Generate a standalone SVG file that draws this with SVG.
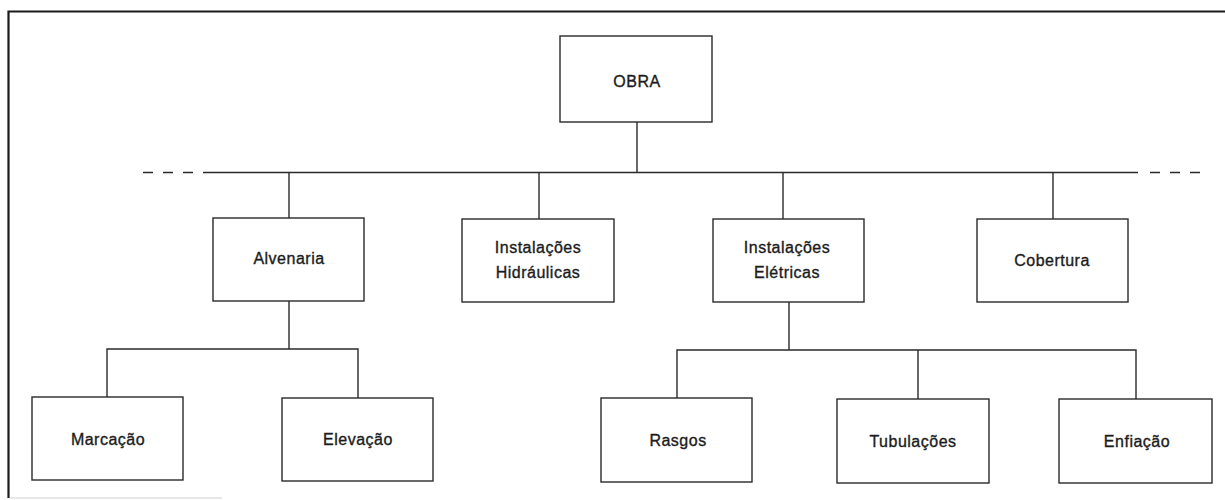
<svg xmlns="http://www.w3.org/2000/svg" width="1225" height="500" viewBox="0 0 1225 500">
  <style>
    .box { fill: #ffffff; stroke: #2a2a2a; stroke-width: 1.4; }
    .lbl { font-family: "Liberation Sans", Arial, sans-serif; font-size: 16px; fill: #1c1c1c; stroke: #1c1c1c; stroke-width: 0.35; text-anchor: middle; letter-spacing: 0.5px; }
    .wire { fill: none; stroke: #2a2a2a; stroke-width: 1.4; }
    .dash { fill: none; stroke: #2a2a2a; stroke-width: 1.4; stroke-dasharray: 10 10; }
  </style>
  <rect width="1225" height="500" fill="#ffffff"/>

  <!-- outer frame -->
  <g id="frame">
    <path d="M8.5,498 V11.5 H1225" fill="none" stroke="#1a1a1a" stroke-width="2.2"/>
    <line x1="10" y1="498" x2="222" y2="498" stroke="#cfcfcf" stroke-width="1.2"/>
  </g>

  <!-- connectors -->
  <g id="connectors">
    <!-- top level bus -->
    <line class="dash" x1="143" y1="172.5" x2="202" y2="172.5"/>
    <line class="wire" x1="203" y1="172.5" x2="1138" y2="172.5"/>
    <line class="dash" x1="1150" y1="172.5" x2="1205" y2="172.5"/>
    <line class="wire" x1="637" y1="122" x2="637" y2="172.5"/>
    <line class="wire" x1="289" y1="172.5" x2="289" y2="218"/>
    <line class="wire" x1="539" y1="172.5" x2="539" y2="219"/>
    <line class="wire" x1="783" y1="172.5" x2="783" y2="219"/>
    <line class="wire" x1="1053" y1="172.5" x2="1053" y2="219"/>
    <!-- Alvenaria branch -->
    <path class="wire" d="M289,301 V349 M107,397 V349 H358 V398"/>
    <!-- Instalações Elétricas branch -->
    <path class="wire" d="M789,302 V350 M677,398 V350 H1136 V399 M918,350 V399"/>
  </g>

  <g id="obra">
    <rect class="box" x="560" y="36" width="152" height="86"/>
    <text class="lbl" x="637" y="87">OBRA</text>
  </g>

  <g id="alvenaria">
    <rect class="box" x="213" y="218" width="151" height="83"/>
    <text class="lbl" x="289" y="264">Alvenaria</text>
  </g>

  <g id="instalacoes-hidraulicas">
    <rect class="box" x="462" y="219" width="152" height="83"/>
    <text class="lbl" x="538" y="253">Instalações</text>
    <text class="lbl" x="538" y="278">Hidráulicas</text>
  </g>

  <g id="instalacoes-eletricas">
    <rect class="box" x="713" y="219" width="151" height="83"/>
    <text class="lbl" x="787" y="253">Instalações</text>
    <text class="lbl" x="787" y="278">Elétricas</text>
  </g>

  <g id="cobertura">
    <rect class="box" x="977" y="219" width="151" height="83"/>
    <text class="lbl" x="1052" y="266">Cobertura</text>
  </g>

  <g id="marcacao">
    <rect class="box" x="32" y="397" width="151" height="83"/>
    <text class="lbl" x="108" y="445">Marcação</text>
  </g>

  <g id="elevacao">
    <rect class="box" x="282" y="398" width="151" height="83"/>
    <text class="lbl" x="358" y="445">Elevação</text>
  </g>

  <g id="rasgos">
    <rect class="box" x="601" y="398" width="151" height="84"/>
    <text class="lbl" x="678" y="446">Rasgos</text>
  </g>

  <g id="tubulacoes">
    <rect class="box" x="837" y="399" width="152" height="84"/>
    <text class="lbl" x="913" y="447">Tubulações</text>
  </g>

  <g id="enfiacao">
    <rect class="box" x="1059" y="399" width="153" height="84"/>
    <text class="lbl" x="1137" y="447">Enfiação</text>
  </g>
</svg>
